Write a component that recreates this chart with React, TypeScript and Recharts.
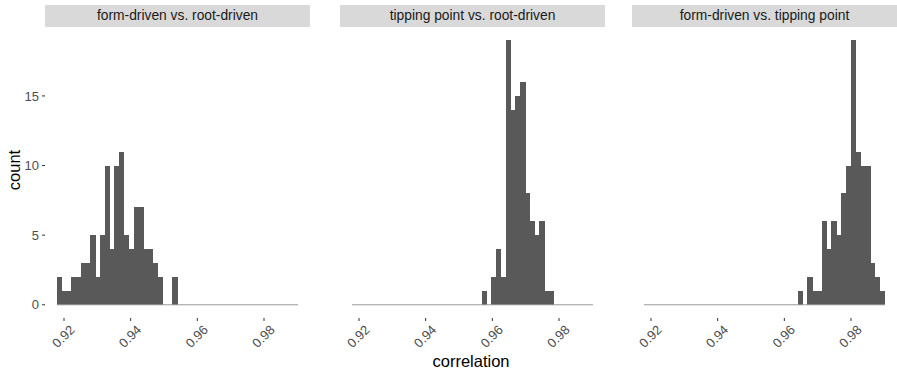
import React from "react";
import { Bar, BarChart, ReferenceLine, XAxis, YAxis } from "recharts";

// histogram bins shared by all three facets
const BIN_START = 0.9179;
const BIN_WIDTH = 0.001446;
const BIN_COUNT = 50;
const BIN_END = BIN_START + BIN_WIDTH * BIN_COUNT;

const X_DOMAIN: [number, number] = [0.9143, 0.9938];
const X_TICKS = [0.92, 0.94, 0.96, 0.98];
const Y_DOMAIN: [number, number] = [-0.95, 19.95];
const Y_TICKS = [0, 5, 10, 15];

const facetTitles = [
  "form-driven vs. root-driven",
  "tipping point vs. root-driven",
  "form-driven vs. tipping point",
];

const formVsRoot = [
  2, 1, 1, 2, 2, 3, 3, 5, 2, 5, 10, 4, 10, 11, 5, 4, 7, 7, 4, 4, 3, 2, 0, 0, 2,
  0, 0, 0, 0, 0, 0, 0, 0, 0, 0, 0, 0, 0, 0, 0, 0, 0, 0, 0, 0, 0, 0, 0, 0, 0,
];

const tippingVsRoot = [
  0, 0, 0, 0, 0, 0, 0, 0, 0, 0, 0, 0, 0, 0, 0, 0, 0, 0, 0, 0, 0, 0, 0, 0, 0,
  0, 0, 1, 0, 2, 4, 2, 19, 14, 15, 16, 8, 6, 5, 6, 1, 1, 0, 0, 0, 0, 0, 0, 0, 0,
];

const formVsTipping = [
  0, 0, 0, 0, 0, 0, 0, 0, 0, 0, 0, 0, 0, 0, 0, 0, 0, 0, 0, 0, 0, 0, 0, 0, 0,
  0, 0, 0, 0, 0, 0, 0, 1, 0, 2, 1, 1, 6, 4, 6, 5, 8, 10, 19, 11, 10, 10, 3, 2, 1,
];

const facetCounts = [formVsRoot, tippingVsRoot, formVsTipping];

const FONT = '"Liberation Sans", Arial, Helvetica, sans-serif';
const PANEL_W = 265;
const PANEL_LEFT = [45, 340, 632];
const PANEL_TOP = 27;
const PANEL_BOTTOM = 318;
const CHART_H = 372;
const Y_AXIS_W = 45;

const barPx = (BIN_WIDTH / (X_DOMAIN[1] - X_DOMAIN[0])) * PANEL_W;

function toBins(counts: number[]) {
  return counts.map((count, i) => ({
    x: BIN_START + (i + 0.5) * BIN_WIDTH,
    count,
  }));
}

function XTick(props: any) {
  const { x, y, payload } = props;
  const ax = x + 5;
  const ay = y + 3;
  return (
    <text
      x={ax}
      y={ay}
      dy="0.71em"
      textAnchor="end"
      fontSize={13}
      fill="#4D4D4D"
      fontFamily={FONT}
      transform={`rotate(-45, ${ax}, ${ay})`}
    >
      {payload.value.toFixed(2)}
    </text>
  );
}

// bins drawn edge to edge, like geom_histogram
function HistRect(props: any) {
  const { x, y, width, height } = props;
  if (!height || height <= 0) return null;
  return (
    <rect
      x={x - 0.5}
      y={y}
      width={width + 1}
      height={height}
      fill="#595959"
      shapeRendering="crispEdges"
    />
  );
}

function Facet({ index }: { index: number }) {
  const showY = index === 0;
  const left = showY ? PANEL_LEFT[0] - Y_AXIS_W : PANEL_LEFT[index];
  const width = PANEL_W + (showY ? Y_AXIS_W : 0);
  return (
    <>
      <div
        style={{
          position: "absolute",
          left: PANEL_LEFT[index],
          top: 5,
          width: PANEL_W,
          height: 22,
          background: "#D9D9D9",
          color: "#1A1A1A",
          fontFamily: FONT,
          fontSize: 13.8,
          lineHeight: "22px",
          textAlign: "center",
        }}
      >
        {facetTitles[index]}
      </div>
      <div style={{ position: "absolute", left, top: 0 }}>
        <BarChart
          width={width}
          height={CHART_H}
          data={toBins(facetCounts[index])}
          margin={{ top: PANEL_TOP, right: 0, left: 0, bottom: 0 }}
          barCategoryGap={0}
          barGap={0}
        >
          <XAxis
            dataKey="x"
            type="number"
            domain={X_DOMAIN}
            ticks={X_TICKS}
            allowDataOverflow
            axisLine={false}
            tickSize={3}
            tickMargin={0}
            tickLine={{ stroke: "#333333" }}
            tick={<XTick />}
            height={CHART_H - PANEL_BOTTOM}
            interval={0}
          />
          <YAxis
            type="number"
            domain={Y_DOMAIN}
            ticks={Y_TICKS}
            allowDataOverflow
            hide={!showY}
            width={Y_AXIS_W}
            axisLine={false}
            tickSize={3}
            tickMargin={3}
            tickLine={{ stroke: "#333333" }}
            tick={{ fontSize: 13, fill: "#4D4D4D", fontFamily: FONT }}
            interval={0}
          />
          <ReferenceLine
            segment={[
              { x: BIN_START, y: 0 },
              { x: BIN_END, y: 0 },
            ]}
            stroke="#9A9A9A"
            strokeWidth={1}
          />
          <Bar
            dataKey="count"
            fill="#595959"
            barSize={barPx}
            shape={<HistRect />}
            isAnimationActive={false}
          />
        </BarChart>
      </div>
    </>
  );
}

export default function App() {
  return (
    <div
      style={{
        position: "relative",
        width: 897,
        height: 372,
        background: "#FFFFFF",
        overflow: "hidden",
      }}
    >
      <style>{"body{margin:0}"}</style>
      {facetTitles.map((_, i) => (
        <Facet key={i} index={i} />
      ))}
      <div
        style={{
          position: "absolute",
          left: 14,
          top: 170,
          transform: "translate(-50%, -50%) rotate(-90deg)",
          fontFamily: FONT,
          fontSize: 16.5,
          color: "#000000",
        }}
      >
        count
      </div>
      <div
        style={{
          position: "absolute",
          left: 471,
          top: 361,
          transform: "translate(-50%, -50%)",
          fontFamily: FONT,
          fontSize: 16.5,
          color: "#000000",
          whiteSpace: "nowrap",
        }}
      >
        correlation
      </div>
    </div>
  );
}
